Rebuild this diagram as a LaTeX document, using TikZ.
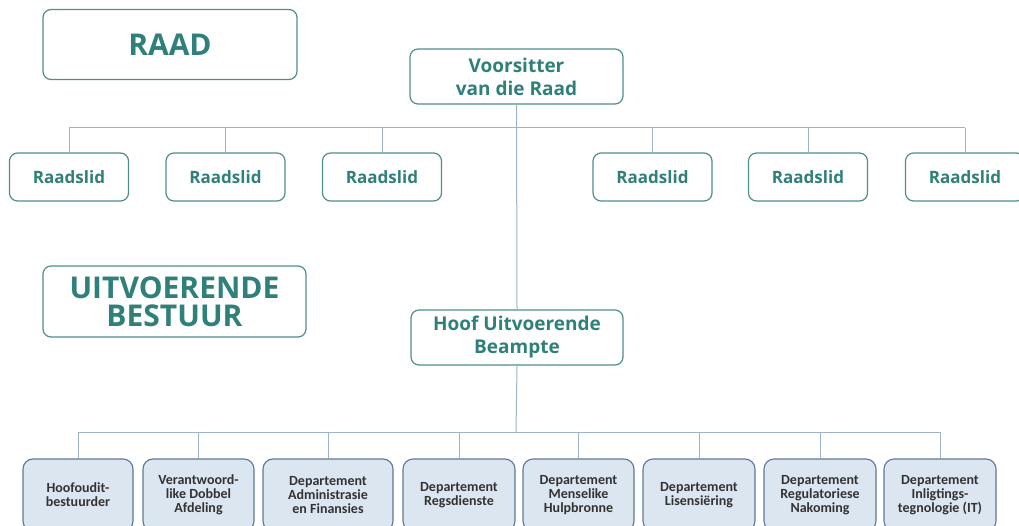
\documentclass[tikz,border=0pt]{standalone}
\usepackage{fontspec}
\setmainfont{Open Sans}
\newfontfamily\deptfont{Carlito}
\usepackage{xcolor}
\definecolor{raadteal}{HTML}{2F7F7A}
\definecolor{raadedge}{HTML}{4E8F8C}
\definecolor{linkgray}{HTML}{9FB3C6}
\definecolor{deptfill}{HTML}{DCE6F1}
\definecolor{deptedge}{HTML}{5B7896}
\definecolor{depttext}{HTML}{333333}

\begin{document}
\begin{tikzpicture}[x=1pt,y=-1pt,
	tealbox/.style={draw=raadedge,line width=1.2pt,rounded corners=8pt,fill=white,
		text=raadteal,align=center,inner sep=0pt},
	lidbox/.style={tealbox,minimum width=119pt,minimum height=48pt,
		font=\bfseries\fontsize{17}{17}\selectfont},
	deptbox/.style={draw=deptedge,line width=1.1pt,rounded corners=10pt,fill=deptfill,
		text=depttext,align=center,inner sep=0pt,minimum height=72pt,
		font=\deptfont\bfseries\fontsize{14}{14}\selectfont},
	link/.style={draw=linkgray,line width=1pt}]
	\useasboundingbox (0,0) rectangle (1019,526);
	\clip (0,0) rectangle (1019,526);
	
	% titles
	\node[tealbox,minimum width=254pt,minimum height=70pt,
		font=\bfseries\fontsize{30}{30}\selectfont] (raad) at (170,44.5) {RAAD};
	\node[tealbox,minimum width=263pt,minimum height=71pt,
		font=\bfseries\fontsize{30}{28}\selectfont] (uitbest) at (174.5,301.5) {UITVOERENDE\\BESTUUR};
	
	% council
	\node[tealbox,minimum width=213pt,minimum height=55pt,
		font=\bfseries\fontsize{19}{23}\selectfont] (voorsitter) at (516.5,76.5) {Voorsitter\\van die Raad};
	\foreach \i/\xx in {1/69,2/225.5,3/382,4/652.5,5/808,6/965}{
		\node[lidbox] (lid\i) at (\xx,177) {Raadslid};
	}
	
	% executive
	\node[tealbox,minimum width=212pt,minimum height=55pt,
		font=\bfseries\fontsize{19}{23}\selectfont] (hoof) at (517,337.5) {Hoof Uitvoerende\\Beampte};
	\node[deptbox,minimum width=110pt] (dep1) at (78,495) {Hoofoudit-\\bestuurder};
	\node[deptbox,minimum width=111pt] (dep2) at (198.5,495) {Verantwoord-\\like Dobbel\\Afdeling};
	\node[deptbox,minimum width=130pt] (dep3) at (328,495) {Departement\\Administrasie\\en Finansies};
	\node[deptbox,minimum width=112pt] (dep4) at (459,495) {Departement\\Regsdienste};
	\node[deptbox,minimum width=111pt] (dep5) at (578.5,495) {Departement\\Menselike\\Hulpbronne};
	\node[deptbox,minimum width=112pt] (dep6) at (699,495) {Departement\\Lisensi\"ering};
	\node[deptbox,minimum width=112pt] (dep7) at (820,495) {Departement\\Regulatoriese\\Nakoming};
	\node[deptbox,minimum width=112pt] (dep8) at (940,495) {Departement\\Inligtings-\\tegnologie (IT)};
	
	% connectors
	\coordinate (busraad) at (516,128);
	\coordinate (busdep) at (516,432);
	\draw[link] (voorsitter.south) -- (hoof.north);
	\draw[link] (hoof.south) -- (busdep);
	\draw[link] (lid1.north |- busraad) -- (lid6.north |- busraad);
	\draw[link] (dep1.north |- busdep) -- (dep8.north |- busdep);
	\foreach \i in {1,...,6}{
		\draw[link] (lid\i.north |- busraad) -- (lid\i.north);
	}
	\foreach \i in {1,...,8}{
		\draw[link] (dep\i.north |- busdep) -- (dep\i.north);
	}
\end{tikzpicture}
\end{document}
